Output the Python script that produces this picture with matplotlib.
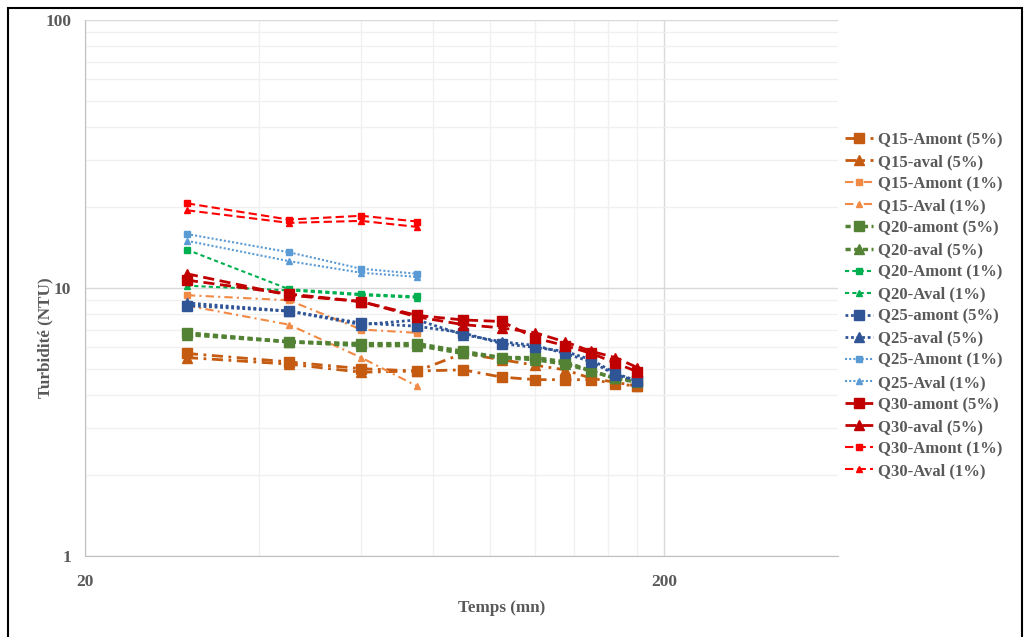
import matplotlib.pyplot as plt
import numpy as np
from matplotlib.lines import Line2D
from matplotlib.patches import Rectangle
from matplotlib.ticker import FixedLocator, NullFormatter


# sampling times (mn)
T_LONG = [30, 45, 60, 75, 90, 105, 120, 135, 150, 165, 180]
T_SHORT = [30, 45, 60, 75]

# turbidity (NTU), 5% series over the whole test
Q15_AMONT_5 = [5.7, 5.3, 5.0, 4.9, 4.95, 4.65, 4.55, 4.55, 4.55, 4.4, 4.3]
Q15_AVAL_5 = [5.5, 5.2, 4.85, 4.9, 5.7, 5.4, 5.15, 4.95, 4.6, 4.45, 4.3]
Q20_AMONT_5 = [6.8, 6.3, 6.2, 6.2, 5.8, 5.5, 5.5, 5.3, 4.9, 4.6, 4.5]
Q20_AVAL_5 = [6.7, 6.3, 6.1, 6.1, 5.7, 5.5, 5.4, 5.2, 4.9, 4.6, 4.45]
Q25_AMONT_5 = [8.6, 8.2, 7.4, 7.2, 6.8, 6.2, 6.0, 5.8, 5.4, 4.8, 4.5]
Q25_AVAL_5 = [8.8, 8.2, 7.3, 7.6, 6.7, 6.3, 6.1, 5.7, 5.3, 4.75, 4.5]
Q30_AMONT_5 = [10.7, 9.5, 8.9, 7.9, 7.6, 7.5, 6.5, 6.1, 5.7, 5.25, 4.87]
Q30_AVAL_5 = [11.3, 9.4, 8.9, 7.8, 7.3, 7.1, 6.8, 6.3, 5.8, 5.5, 5.05]

# 1% series, shorter runs
Q15_AMONT_1 = [9.4, 9.0, 7.0, 6.8]
Q15_AVAL_1 = [8.6, 7.3, 5.5, 4.3]
Q20_AMONT_1 = [13.9, 9.9, 9.5, 9.3]
Q20_AVAL_1 = [10.2, 9.8, 9.4, 9.2]
Q25_AMONT_1 = [15.9, 13.6, 11.8, 11.3]
Q25_AVAL_1 = [15.0, 12.6, 11.4, 11.0]
Q30_AMONT_1 = [20.7, 18.0, 18.6, 17.7]
Q30_AVAL_1 = [19.5, 17.5, 17.8, 16.9]

SERIES = [
    ("Q15-Amont (5%)", T_LONG, Q15_AMONT_5, "#C55A11", "s", (0, (4, 2, 1, 2)), 2.0, 7),
    ("Q15-aval (5%)", T_LONG, Q15_AVAL_5, "#C55A11", "^", (0, (4, 2, 1, 2)), 2.0, 7),
    ("Q15-Amont (1%)", T_SHORT, Q15_AMONT_1, "#F08A45", "s", (0, (4, 2, 1, 2)), 1.5, 5),
    ("Q15-Aval (1%)", T_SHORT, Q15_AVAL_1, "#F08A45", "^", (0, (4, 2, 1, 2)), 1.5, 5),
    ("Q20-amont (5%)", T_LONG, Q20_AMONT_5, "#548235", "s", (0, (1.5, 1)), 2.5, 7),
    ("Q20-aval (5%)", T_LONG, Q20_AVAL_5, "#548235", "^", (0, (1.5, 1)), 2.5, 7),
    ("Q20-Amont (1%)", T_SHORT, Q20_AMONT_1, "#00B050", "s", (0, (2, 1.5)), 1.5, 5),
    ("Q20-Aval (1%)", T_SHORT, Q20_AVAL_1, "#00B050", "^", (0, (2, 1.5)), 1.5, 5),
    ("Q25-amont (5%)", T_LONG, Q25_AMONT_5, "#2F5597", "s", (0, (1, 1)), 2.0, 7),
    ("Q25-aval (5%)", T_LONG, Q25_AVAL_5, "#2F5597", "^", (0, (1, 1)), 2.0, 7),
    ("Q25-Amont (1%)", T_SHORT, Q25_AMONT_1, "#5B9BD5", "s", (0, (1, 1)), 1.5, 5),
    ("Q25-Aval (1%)", T_SHORT, Q25_AVAL_1, "#5B9BD5", "^", (0, (1, 1)), 1.5, 5),
    ("Q30-amont (5%)", T_LONG, Q30_AMONT_5, "#C00000", "s", (0, (4, 2)), 2.0, 7),
    ("Q30-aval (5%)", T_LONG, Q30_AVAL_5, "#C00000", "^", (0, (4, 2)), 2.0, 7),
    ("Q30-Amont (1%)", T_SHORT, Q30_AMONT_1, "#FF0000", "s", (0, (4, 2)), 1.5, 5),
    ("Q30-Aval (1%)", T_SHORT, Q30_AVAL_1, "#FF0000", "^", (0, (4, 2)), 1.5, 5),
]

TEXT_GREY = "#595959"
plt.rcParams["font.family"] = ["Liberation Serif", "DejaVu Serif"]

fig = plt.figure(figsize=(10.28, 6.37), dpi=100)
ax = fig.add_axes([85 / 1028, 1 - 556 / 637, (838 - 85) / 1028, (556 - 20) / 637])

handles = []
for label, t, vals, color, marker, ls, lw, ms in SERIES:
    ax.plot(t, vals, color=color, linestyle=ls, linewidth=lw,
            marker=marker, markersize=ms, markeredgecolor=color, zorder=3)
    handles.append(Line2D([], [], color=color, linestyle=ls, linewidth=lw,
                          marker=marker, markersize=ms, markeredgecolor=color))

ax.set_xscale("log")
ax.set_yscale("log")
ax.set_xlim(20, 400)
ax.set_ylim(1, 100)

ax.xaxis.set_major_locator(FixedLocator([20, 200]))
ax.xaxis.set_minor_locator(FixedLocator(list(range(40, 200, 20))))
ax.yaxis.set_major_locator(FixedLocator([1, 10, 100]))
ax.yaxis.set_minor_locator(FixedLocator(list(range(2, 10)) + list(range(20, 100, 10))))
ax.xaxis.set_minor_formatter(NullFormatter())
ax.yaxis.set_minor_formatter(NullFormatter())
ax.set_xticklabels(["20", "200"])
ax.set_yticklabels(["1", "10", "100"])

ax.grid(which="major", color="#D9D9D9", linewidth=1.0)
ax.grid(which="minor", color="#F0F0F0", linewidth=1.0)
ax.set_axisbelow(True)
ax.tick_params(which="both", length=0, labelsize=12.5, labelcolor=TEXT_GREY)
ax.tick_params(axis="x", pad=13)
ax.tick_params(axis="y", pad=10)
for lbl in ax.get_xticklabels() + ax.get_yticklabels():
    lbl.set_fontweight("bold")

for side in ["top", "right"]:
    ax.spines[side].set_visible(False)
for side in ["left", "bottom"]:
    ax.spines[side].set_color("#BFBFBF")

fig.text(45 / 1028, 1 - 338 / 637, "Turbidité (NTU)", rotation=90, ha="center", va="center",
         fontsize=12.3, fontweight="bold", color=TEXT_GREY)
fig.text(502 / 1028, 1 - 608 / 637, "Temps (mn)", ha="center", va="center",
         fontsize=12.3, fontweight="bold", color=TEXT_GREY)

leg = fig.legend(handles, [s[0] for s in SERIES], loc="upper left",
                 bbox_to_anchor=(830 / 1028, 1 - 117 / 637), frameon=False,
                 fontsize=12, labelspacing=0.365, handlelength=1.7, handletextpad=0.3)
for txt in leg.get_texts():
    txt.set_color(TEXT_GREY)
    txt.set_fontweight("bold")

# outer frame of the chart
fig.patches.append(Rectangle((8 / 1028, -0.05), 1014 / 1028, 1.05 - 8 / 637,
                             transform=fig.transFigure, fill=False,
                             edgecolor="black", linewidth=1.5))

fig.savefig("out.png", dpi=100)
